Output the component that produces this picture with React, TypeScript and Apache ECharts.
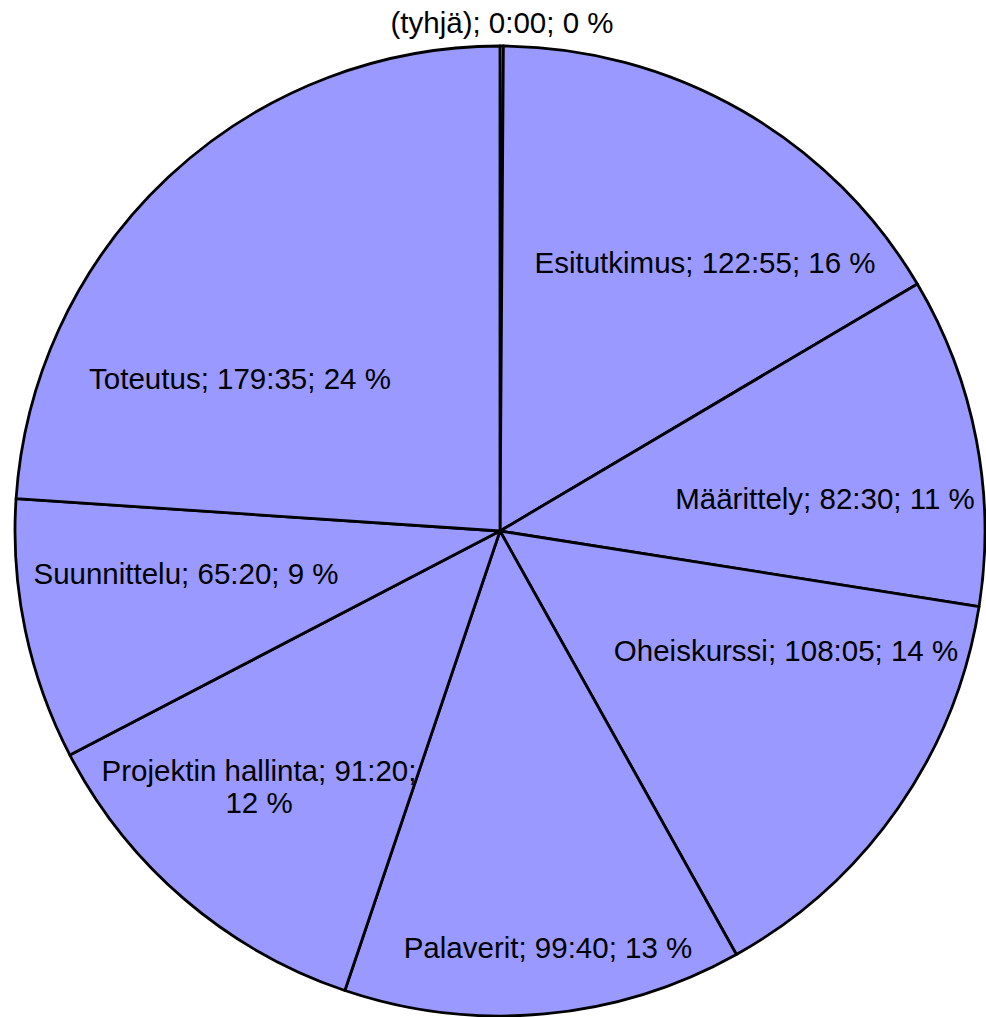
import React, { useEffect, useRef } from "react";
import * as echarts from "echarts";

const categories = [
  "(tyhjä)",
  "Esitutkimus",
  "Määrittely",
  "Oheiskurssi",
  "Palaverit",
  "Projektin hallinta",
  "Suunnittelu",
  "Toteutus",
];
const hours = [0, 122, 82, 108, 99, 91, 65, 179];
const minutes = [0, 55, 30, 5, 40, 20, 20, 35];

// label placement (relative to pie centre) – styling only
const labelOffsets: [number, number][] = [
  [2, -509],
  [205, -269],
  [325, -33],
  [286, 119],
  [48, 416],
  [-241, 255],
  [-314, 42],
  [-260, -153],
];
const breakBeforePercent = [false, false, false, false, false, true, false, false];

const CX = 500;
const CY = 531;
const R = 485;

export default function App() {
  const ref = useRef<HTMLDivElement>(null);
  useEffect(() => {
    if (!ref.current) return;
    const chart = echarts.init(ref.current, undefined, { renderer: "svg" });
    const values = hours.map((h, i) => h * 60 + minutes[i]);
    const total = values.reduce((a, b) => a + b, 0);
    const data = categories.map((name, i) => ({
      name,
      value: values[i],
      itemStyle: i === 0 ? { color: "#ffffff" } : undefined,
    }));
    chart.setOption({
      animation: false,
      backgroundColor: "#ffffff",
      series: [
        {
          type: "pie",
          center: [CX, CY],
          radius: R,
          startAngle: 90,
          clockwise: true,
          minAngle: 0.4,
          avoidLabelOverlap: false,
          data,
          itemStyle: {
            color: "#9999ff",
            borderColor: "#000000",
            borderWidth: 2.8,
          },
          emphasis: { disabled: true },
          label: {
            show: true,
            position: "inside",
            color: "#000000",
            fontFamily: "Liberation Sans",
            fontSize: 29.5,
            lineHeight: 32,
            align: "center",
            verticalAlign: "middle",
            formatter: (p: any) => {
              const i = p.dataIndex;
              const pct = Math.round((values[i] / total) * 100);
              const mm = String(minutes[i]).padStart(2, "0");
              const sep = breakBeforePercent[i] ? "\n" : " ";
              return `${categories[i]}; ${hours[i]}:${mm};${sep}${pct} %`;
            },
          },
          labelLine: { show: false },
          labelLayout: (params: any) => {
            const i = params.dataIndex;
            return {
              x: CX + labelOffsets[i][0],
              y: CY + labelOffsets[i][1],
              align: "center",
              verticalAlign: "middle",
            };
          },
        },
      ],
    });
    return () => chart.dispose();
  }, []);
  return (
    <div
      ref={ref}
      style={{ position: "absolute", left: 0, top: 0, width: 986, height: 1017 }}
    />
  );
}
